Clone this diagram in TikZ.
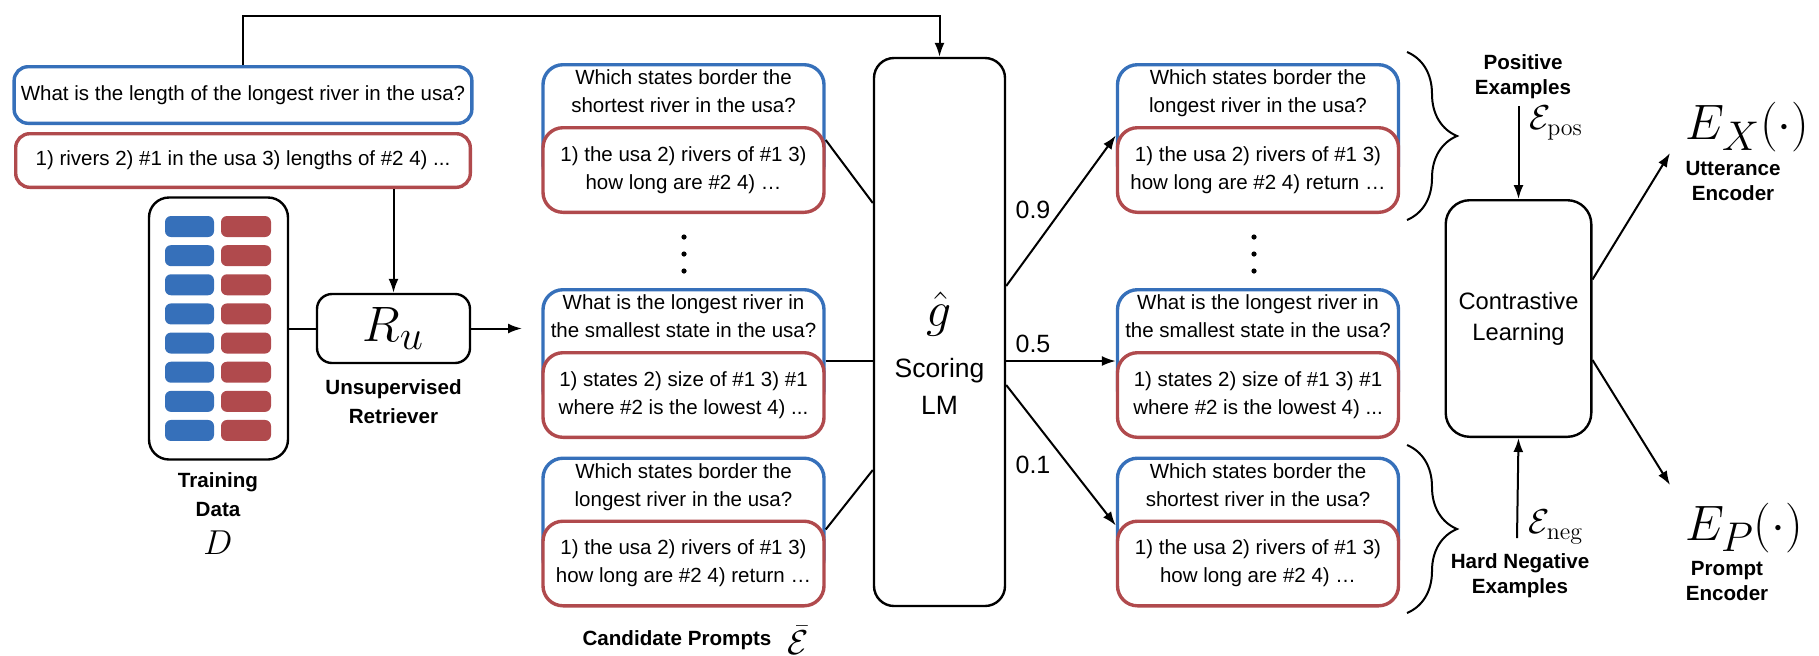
\documentclass[tikz,border=0pt]{standalone}
\usepackage[no-math]{fontspec}
\setmainfont{Liberation Sans}
\usepackage{amsmath}
\usepackage{amssymb}
\usepackage{tikz}
\usetikzlibrary{positioning, arrows.meta, decorations.pathreplacing}
\definecolor{qblue}{RGB}{54,112,186}
\definecolor{dred}{RGB}{176,74,77}

\begin{document}
\begin{tikzpicture}[
    x=0.5pt, y=-0.5pt,
    txt/.style={font=\fontsize{10.25}{14}\selectfont},
    qbox/.style={draw=qblue, line width=1.7pt, rounded corners=10pt, fill=white, minimum width=140.5pt, minimum height=60pt},
    qtext/.style={txt, align=center, anchor=north},
    dbox/.style={draw=dred, line width=1.7pt, rounded corners=10pt, fill=white, minimum width=140.5pt, minimum height=42.3pt, txt, align=center},
    blk/.style={draw, line width=1.2pt, rounded corners=10pt},
    lbl/.style={font=\fontsize{10.3}{12.5}\selectfont\bfseries, align=center},
    link/.style={line width=1pt},
    arr/.style={line width=1pt, -{Latex[length=7pt, width=5pt]}},
    brc/.style={line width=1pt, decorate, decoration={brace, amplitude=25pt}},
    bigmath/.style={font=\fontsize{28}{30}\selectfont},
    midmath/.style={font=\fontsize{17}{17}\selectfont},
    score/.style={font=\fontsize{12.5}{14}\selectfont},
]
\useasboundingbox (0,0) rectangle (1819,655);

% query and its decomposition
\node[qbox, rounded corners=7pt, minimum width=227.3pt, minimum height=28.3pt, txt] (qry) at (243,95) {What is the length of the longest river in the usa?};
\node[dbox, rounded corners=7pt, minimum width=227.3pt, minimum height=26.8pt] (qdec) at (243,160.5) {1) rivers 2) \#1 in the usa 3) lengths of \#2 4) ...};

% training data
\node[blk, minimum width=69.5pt, minimum height=131pt] (train) at (218.5,328.5) {};
\foreach \i in {0,...,7} {
    \fill[qblue, rounded corners=3pt] (165,216+29.14*\i) rectangle ++(49,21);
    \fill[dred, rounded corners=3pt] (221,216+29.14*\i) rectangle ++(50,21);
}
\node[lbl, font=\fontsize{10.3}{14.5}\selectfont\bfseries] (tdlbl) at (218,494.5) {Training\\Data};
\node[midmath, below=0pt of tdlbl] (dlbl) {$D$};

% retriever
\node[blk, rounded corners=7.5pt, minimum width=76.5pt, minimum height=34.5pt, bigmath, font=\fontsize{29}{30}\selectfont] (ru) at (393.5,328.5) {$R_u$};
\node[lbl, font=\fontsize{10.3}{14.5}\selectfont\bfseries, below=4pt of ru] (rulbl) {Unsupervised\\Retriever};
\coordinate (ruout) at (522,328.5);

% candidate prompts
\node[qbox] (c1q) at (683.5,124.7) {};
\node[qtext] (c1qt) at (c1q.north) {Which states border the\\shortest river in the usa?};
\node[dbox] (c1d) at (683.5,170) {1) the usa 2) rivers of \#1 3)\\how long are \#2 4) …};
\node[qbox] (c2q) at (683.5,349.7) {};
\node[qtext] (c2qt) at (c2q.north) {What is the longest river in\\the smallest state in the usa?};
\node[dbox] (c2d) at (683.5,395) {1) states 2) size of \#1 3) \#1\\where \#2 is the lowest 4) ...};
\node[qbox] (c3q) at (683.5,518.2) {};
\node[qtext] (c3qt) at (c3q.north) {Which states border the\\longest river in the usa?};
\node[dbox] (c3d) at (683.5,563.5) {1) the usa 2) rivers of \#1 3)\\how long are \#2 4) return …};
\fill (684,237) circle (1.3pt) (684,254) circle (1.3pt) (684,271) circle (1.3pt);
\node[lbl] (cand) at (677,640) {Candidate Prompts};
\node[midmath, right=1pt of cand] (ebar) {$\bar{\mathcal{E}}$};

% scoring LM
\node[blk, minimum width=65.5pt, minimum height=274pt] (lm) at (939.5,332) {};
\node[bigmath, font=\fontsize{32}{34}\selectfont] (ghat) at (939.5,314) {$\hat{g}$};
\node[align=center, font=\fontsize{13.25}{18.5}\selectfont] (lmname) at (939.5,386.5) {Scoring\\LM};

% scored examples
\node[qbox] (r1q) at (1258,124.7) {};
\node[qtext] (r1qt) at (r1q.north) {Which states border the\\longest river in the usa?};
\node[dbox] (r1d) at (1258,170) {1) the usa 2) rivers of \#1 3)\\how long are \#2 4) return …};
\node[qbox] (r2q) at (1258,349.7) {};
\node[qtext] (r2qt) at (r2q.north) {What is the longest river in\\the smallest state in the usa?};
\node[dbox] (r2d) at (1258,395) {1) states 2) size of \#1 3) \#1\\where \#2 is the lowest 4) ...};
\node[qbox] (r3q) at (1258,518.2) {};
\node[qtext] (r3qt) at (r3q.north) {Which states border the\\shortest river in the usa?};
\node[dbox] (r3d) at (1258,563.5) {1) the usa 2) rivers of \#1 3)\\how long are \#2 4) …};
\fill (1254,237) circle (1.3pt) (1254,254) circle (1.3pt) (1254,271) circle (1.3pt);
\node[score] (s1) at (1033,210) {0.9};
\node[score] (s2) at (1033,344) {0.5};
\node[score] (s3) at (1033,465) {0.1};

% contrastive learning
\node[blk, rounded corners=12pt, minimum width=72.8pt, minimum height=118.3pt, align=center, font=\fontsize{11.85}{15.5}\selectfont] (cl) at (1518.5,318.5) {Contrastive\\Learning};
\node[lbl] (poslbl) at (1523,77) {Positive\\Examples};
\node[midmath] (epos) at (1556,123) {$\mathcal{E}_{\mathrm{pos}}$};
\node[lbl] (neglbl) at (1520,575.5) {Hard Negative\\Examples};
\node[midmath] (eneg) at (1556,527) {$\mathcal{E}_{\mathrm{neg}}$};
\coordinate (negin) at (1517,538);
\draw[brc] (1407,52) -- (1407,220);
\draw[brc] (1407,445) -- (1407,613);

% encoders
\node[bigmath] (ex) at (1747.5,127) {$E_X(\cdot)$};
\node[lbl] (uenc) at (1733,181) {Utterance\\Encoder};
\node[bigmath] (ep) at (1744,528) {$E_P(\cdot)$};
\node[lbl] (penc) at (1727,580.5) {Prompt\\Encoder};
\coordinate (exin) at (1670,153);
\coordinate (epin) at (1670,485);

% connectors
\draw[arr] (qry.north) -- ++(0,-49) -| (lm.north);
\draw[arr] (qdec.south -| ru.north) -- (ru.north);
\draw[link] (train.east) -- (ru.west);
\draw[arr] (ru.east) -- (ruout);
\draw[link] ([yshift=-7pt]c1d.north east) -- ([yshift=64.5pt]lm.west);
\draw[link] ([yshift=-5pt]c2d.north east) coordinate (c2o) -- (c2o -| lm.west);
\draw[link] ([yshift=-5pt]c3d.north east) -- ([yshift=-69pt]lm.west);
\draw[arr] ([yshift=23pt]lm.east) -- ([yshift=-4.7pt]r1d.north west);
\draw[arr] ([yshift=-5pt]r2d.north west) coordinate (r2o) (r2o -| lm.east) -- (r2o);
\draw[arr] ([yshift=-26.5pt]lm.east) -- ([yshift=-3pt]r3d.north west);
\draw[arr] (poslbl.south -| cl.north) -- (cl.north);
\draw[arr] (negin) -- (cl.south);
\draw[arr] ([yshift=19.5pt]cl.east) -- (exin);
\draw[arr] ([yshift=-20.75pt]cl.east) -- (epin);
\end{tikzpicture}
\end{document}
